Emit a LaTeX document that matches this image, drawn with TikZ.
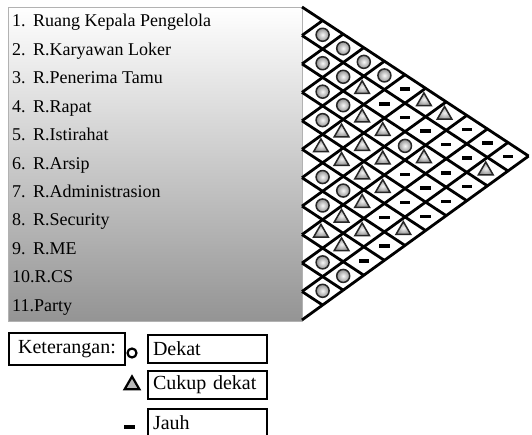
\documentclass[tikz,border=0pt]{standalone}
\usepackage{fontspec}
\setmainfont{Liberation Serif}
\usetikzlibrary{shapes.geometric}
\begin{document}
\begin{tikzpicture}[x=1pt,y=1pt,
  gridline/.style={line width=2.8pt, black},
  listtext/.style={anchor=base west, inner sep=0pt, font=\fontsize{18}{20}\selectfont},
  symO/.style={circle, draw=black!85, line width=1.5pt, minimum size=13pt, inner sep=0pt, inner color=gray!5, outer color=gray!85},
  symA/.style={regular polygon, regular polygon sides=3, draw=black!85, line width=1.5pt, minimum size=17pt, inner sep=0pt, inner color=gray!10, outer color=gray!85},
  symD/.style={rectangle, fill=black, minimum width=10.5pt, minimum height=3.4pt, inner sep=0pt},
  keybox/.style={draw=black, line width=1.6pt, inner sep=5pt, minimum height=28pt, font=\fontsize{20}{22}\selectfont},
  legbox/.style={keybox, text width=109pt, align=left}
]
\useasboundingbox[fill=white] (0,0) rectangle (532,434);
% list box with gradient
\shade[top color=white, bottom color=black!42, draw=gray!60, line width=0.6pt] (8,113) rectangle (302,427);
% list texts
\foreach \i/\t in {1/Ruang Kepala Pengelola, 2/R.Karyawan Loker, 3/R.Penerima Tamu, 4/R.Rapat, 5/R.Istirahat, 6/R.Arsip, 7/R.Administrasion, 8/R.Security, 9/R.ME}{
  \node[listtext] (num\i) at (12,{427-(\i-0.5)*28.45-5.6}) {\i.};
  \node[listtext] (name\i) at (33,{427-(\i-0.5)*28.45-5.6}) {\t};
}
\node[listtext] (name10) at (12,{427-9.5*28.45-5.6}) {10.R.CS};
\node[listtext] (name11) at (12,{427-10.5*28.45-5.6}) {11.Party};
% relationship matrix
\begin{scope}[shift={(302,427)}, x={(-20.6pt,-14.9pt)}, y={(20.6pt,-13.55pt)}]
  \foreach \k in {0,...,11}{
    \coordinate (L\k) at (\k,\k);
    \coordinate (B\k) at (\k,11);
    \coordinate (T\k) at (0,\k);
  }
  \foreach \k in {0,...,10} \draw[gridline] (L\k) -- (B\k);
  \foreach \m in {1,...,11} \draw[gridline] (L\m) -- (T\m);
  \foreach \i/\j in {1/2,2/3,3/4,4/5,6/7,7/8,9/10,10/11,1/3,2/4,3/5,6/8,9/11,1/4,1/5,3/8}
    \node[symO] (c\i-\j) at ({\i-0.5},{\j-0.5}) {};
  \foreach \i/\j in {5/6,8/9,4/6,5/7,7/9,8/10,2/5,3/6,4/7,5/8,6/9,7/10,3/7,4/8,5/9,6/11,1/7,3/9,1/8,2/11}
    \node[symA] (c\i-\j) at ({\i-0.5},{\j-0.5-0.08}) {};
  \foreach \i/\j in {8/11,2/6,6/10,7/11,1/6,2/7,4/9,5/10,2/8,4/10,5/11,2/9,3/10,4/11,1/9,2/10,3/11,1/10,1/11}
    \node[symD] (c\i-\j) at ({\i-0.5},{\j-0.5}) {};
\end{scope}
% legend
\node[keybox, minimum width=116pt, minimum height=32pt] (ket) at (67,85) {Keterangan:};
\node[circle, draw=black, line width=2.2pt, fill=white, minimum size=9pt, inner sep=0pt] (legO) at (132,81) {};
\node[regular polygon, regular polygon sides=3, draw=black, line width=2.2pt, fill=gray!55, minimum size=17pt, inner sep=0pt] (legA) at (132,49) {};
\node[rectangle, fill=black, minimum width=11pt, minimum height=3.8pt, inner sep=0pt] (legD) at (129,7) {};
\node[legbox] (dekat) at (207.5,85) {Dekat};
\node[legbox] (cukup) at (207.5,49) {Cukup dekat};
\node[legbox] (jauh) at (207.5,11) {Jauh};
\end{tikzpicture}
\end{document}
